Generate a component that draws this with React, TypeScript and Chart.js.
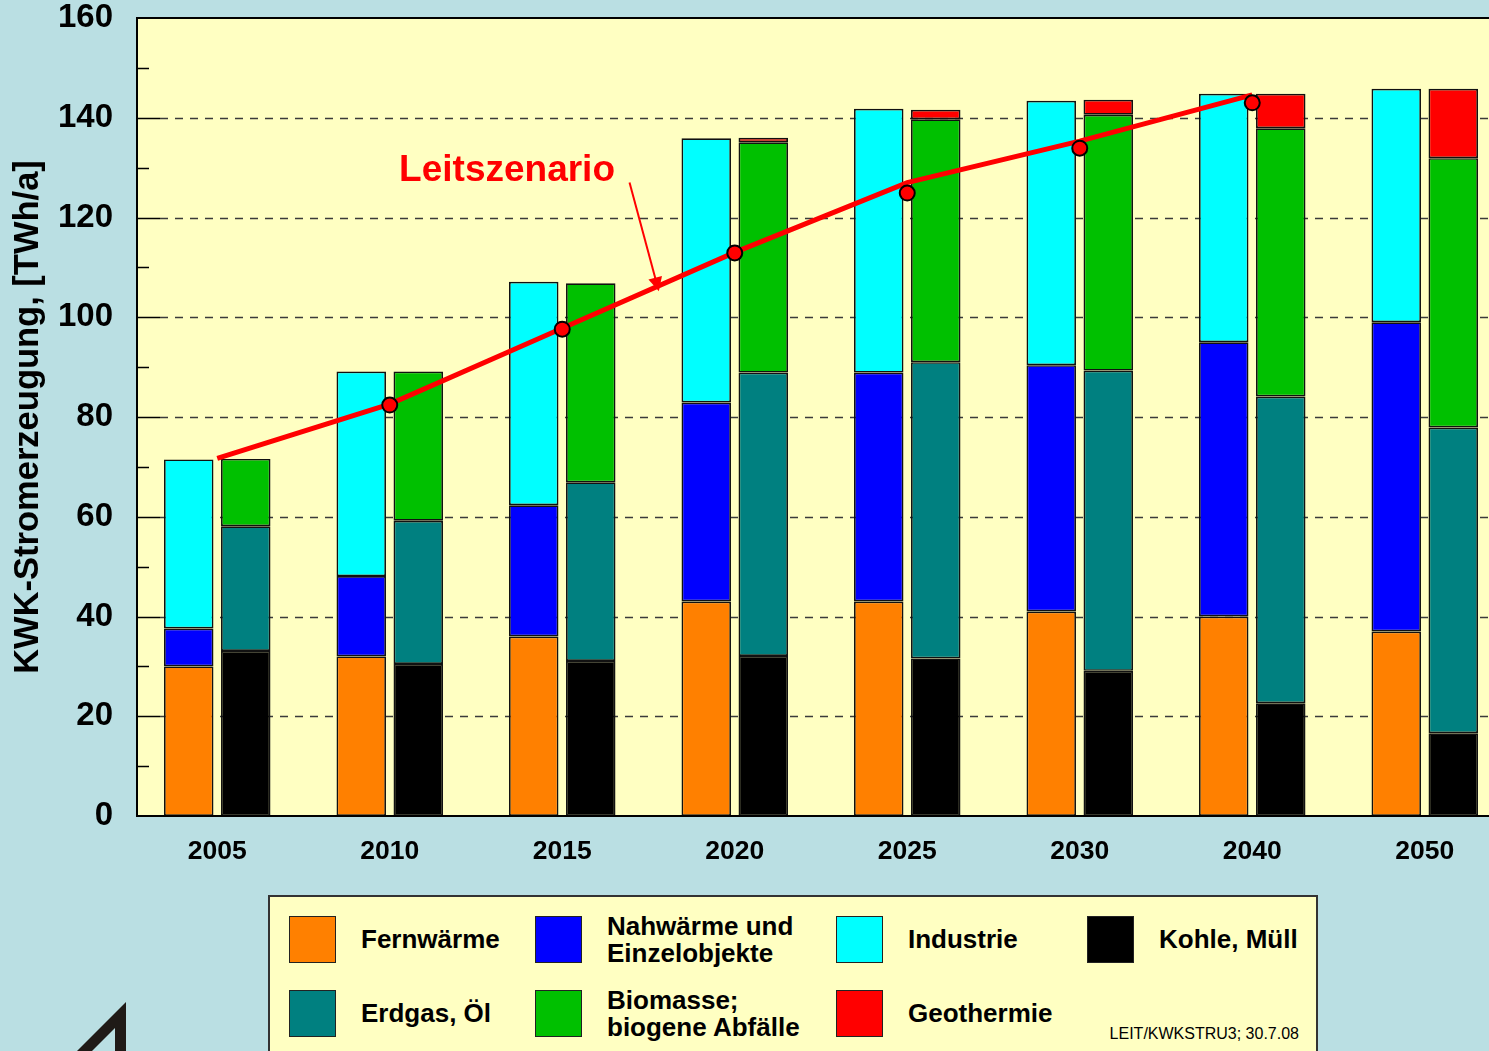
import { useEffect, useRef } from "react";
import { Chart, registerables } from "chart.js";

Chart.register(...registerables);

const YEARS = ["2005", "2010", "2015", "2020", "2025", "2030", "2040", "2050"];
// left column of each pair
const FERNWAERME = [30, 32, 36, 43, 43, 41, 40, 37];
const NAHWAERME = [7.6, 16.1, 26.3, 39.9, 45.9, 49.4, 55, 62];
const INDUSTRIE = [33.9, 41, 44.8, 53, 52.9, 53, 49.8, 46.8];
// right column of each pair
const KOHLE = [33.1, 30.5, 31.1, 32.1, 31.6, 29.1, 22.6, 16.6];
const ERDGAS = [25, 28.7, 35.8, 56.8, 59.4, 60.2, 61.5, 61.3];
const BIOMASSE = [13.5, 29.9, 39.9, 46.2, 48.7, 51.3, 53.8, 54];
const GEOTHERMIE = [0, 0, 0, 0.9, 1.9, 3.0, 6.9, 13.9];
// Leitszenario
const LEIT_LINE = [71.7, 82.6, 97.8, 113, 127, 135.3, 144.6, null];
const LEIT_POINTS = [null, 82.4, 97.6, 112.9, 124.9, 133.9, 143, null];

const Y_MAJOR = [20, 40, 60, 80, 100, 120, 140];
const Y_MINOR = [10, 30, 50, 70, 90, 110, 130, 150];

const FONT = "'Liberation Sans', Arial, Helvetica, sans-serif";
const BG = "#BADFE3";
const PLOT_BG = "#FFFFC2";
const FRAME_INSET = 6; // plot frame sits slightly right of the scale origin

const C_FERN = "#FF8000";
const C_NAH = "#0000FF";
const C_IND = "#00FFFF";
const C_KOHLE = "#000000";
const C_ERDGAS = "#008080";
const C_BIO = "#00C000";
const C_GEO = "#FF0000";

const LEGEND_ROW1 = [
  { color: C_FERN, lines: ["Fernwärme"] },
  { color: C_NAH, lines: ["Nahwärme und", "Einzelobjekte"] },
  { color: C_IND, lines: ["Industrie"] },
  { color: C_KOHLE, lines: ["Kohle, Müll"] },
];
const LEGEND_ROW2 = [
  { color: C_ERDGAS, lines: ["Erdgas, Öl"] },
  { color: C_BIO, lines: ["Biomasse;", "biogene Abfälle"] },
  { color: C_GEO, lines: ["Geothermie"] },
];
const LEGEND_COLS = [19, 265, 566, 817];
const LEGEND_ROWS = [19, 93];

const decorPlugin = {
  id: "decor",
  beforeDraw(chart: any) {
    const { ctx, chartArea: a } = chart;
    const left = a.left + FRAME_INSET;
    ctx.save();
    ctx.fillStyle = PLOT_BG;
    ctx.fillRect(left, a.top, a.right - left, a.bottom - a.top);
    ctx.restore();
  },
  beforeDatasetsDraw(chart: any) {
    const { ctx, chartArea: a } = chart;
    const y = chart.scales.y;
    const left = a.left + FRAME_INSET;
    ctx.save();
    // dashed grid
    ctx.strokeStyle = "#3a3a3a";
    ctx.lineWidth = 1.5;
    ctx.setLineDash([8, 7]);
    ctx.beginPath();
    Y_MAJOR.forEach((v) => {
      const py = Math.round(y.getPixelForValue(v)) + 0.5;
      ctx.moveTo(left + 23, py);
      ctx.lineTo(a.right, py);
    });
    ctx.stroke();
    ctx.setLineDash([]);
    // inner ticks
    ctx.strokeStyle = "#000";
    ctx.beginPath();
    Y_MINOR.forEach((v) => {
      const py = Math.round(y.getPixelForValue(v)) + 0.5;
      ctx.moveTo(left, py);
      ctx.lineTo(left + 12, py);
    });
    Y_MAJOR.forEach((v) => {
      const py = Math.round(y.getPixelForValue(v)) + 0.5;
      ctx.moveTo(left, py);
      ctx.lineTo(left + 23, py);
    });
    ctx.stroke();
    ctx.restore();
  },
  afterDatasetsDraw(chart: any) {
    const { ctx, chartArea: a } = chart;
    const x = chart.scales.x;
    const y = chart.scales.y;
    const left = a.left + FRAME_INSET;
    ctx.save();
    // frame: top, left, bottom
    ctx.strokeStyle = "#000";
    ctx.lineWidth = 2;
    ctx.beginPath();
    ctx.moveTo(a.right, a.top);
    ctx.lineTo(left, a.top);
    ctx.lineTo(left, a.bottom);
    ctx.lineTo(a.right, a.bottom);
    ctx.stroke();

    ctx.fillStyle = "#FF0000";
    ctx.font = `bold 37px ${FONT}`;
    ctx.textAlign = "center";
    ctx.textBaseline = "middle";
    ctx.fillText("Leitszenario", x.getPixelForValue(1.68), y.getPixelForValue(129.4));
    // arrow
    const x0 = x.getPixelForValue(2.39);
    const y0 = y.getPixelForValue(127);
    const x1 = x.getPixelForValue(2.56);
    const y1 = y.getPixelForValue(105.2);
    const ang = Math.atan2(y1 - y0, x1 - x0);
    ctx.strokeStyle = "#FF0000";
    ctx.lineWidth = 2;
    ctx.beginPath();
    ctx.moveTo(x0, y0);
    ctx.lineTo(x1 - Math.cos(ang) * 10, y1 - Math.sin(ang) * 10);
    ctx.stroke();
    const hl = 14;
    const hw = 7;
    ctx.beginPath();
    ctx.moveTo(x1, y1);
    ctx.lineTo(
      x1 - Math.cos(ang) * hl - Math.sin(ang) * hw,
      y1 - Math.sin(ang) * hl + Math.cos(ang) * hw
    );
    ctx.lineTo(
      x1 - Math.cos(ang) * hl + Math.sin(ang) * hw,
      y1 - Math.sin(ang) * hl - Math.cos(ang) * hw
    );
    ctx.closePath();
    ctx.fill();
    ctx.restore();
  },
};

function barDs(label: string, data: number[], color: string, stack: string) {
  return {
    type: "bar" as const,
    label,
    data,
    backgroundColor: color,
    borderColor: "#111",
    borderWidth: 1.7,
    borderSkipped: false,
    stack,
    categoryPercentage: 0.661,
    barPercentage: 0.868,
  };
}

export default function App() {
  const ref = useRef<HTMLCanvasElement>(null);

  useEffect(() => {
    if (!ref.current) return;
    const chart = new Chart(ref.current, {
      type: "bar",
      data: {
        labels: YEARS,
        datasets: [
          {
            type: "line",
            label: "Leitszenario Punkte",
            data: LEIT_POINTS,
            showLine: false,
            pointRadius: 7.5,
            pointBackgroundColor: "#FF0000",
            pointBorderColor: "#000",
            pointBorderWidth: 2,
            stack: "pts",
          } as any,
          {
            type: "line",
            label: "Leitszenario",
            data: LEIT_LINE,
            borderColor: "#FF0000",
            borderWidth: 5,
            pointRadius: 0,
            tension: 0,
            stack: "line",
          } as any,
          barDs("Fernwärme", FERNWAERME, C_FERN, "L"),
          barDs("Nahwärme und Einzelobjekte", NAHWAERME, C_NAH, "L"),
          barDs("Industrie", INDUSTRIE, C_IND, "L"),
          barDs("Kohle, Müll", KOHLE, C_KOHLE, "R"),
          barDs("Erdgas, Öl", ERDGAS, C_ERDGAS, "R"),
          barDs("Biomasse; biogene Abfälle", BIOMASSE, C_BIO, "R"),
          barDs("Geothermie", GEOTHERMIE, C_GEO, "R"),
        ] as any,
      },
      options: {
        responsive: false,
        maintainAspectRatio: false,
        devicePixelRatio: 1,
        animation: false,
        layout: { padding: { left: 0, right: 19, top: 18, bottom: 0 } },
        plugins: {
          legend: { display: false },
          tooltip: { enabled: false },
        },
        scales: {
          x: {
            stacked: true,
            offset: true,
            grid: { display: false, drawTicks: false },
            border: { display: false },
            ticks: {
              color: "#000",
              padding: 20,
              font: { family: FONT, size: 26.5, weight: "bold" },
              maxRotation: 0,
            },
            afterFit(scale: any) {
              scale.height = 64;
              scale.paddingLeft = 0;
              scale.paddingRight = 0;
            },
          },
          y: {
            stacked: true,
            min: 0,
            max: 160,
            ticks: {
              stepSize: 20,
              color: "#000",
              padding: 18,
              font: { family: FONT, size: 33, weight: "bold" },
            },
            grid: { display: false, drawTicks: false },
            border: { display: false },
            title: {
              display: true,
              text: "KWK-Stromerzeugung, [TWh/a]",
              color: "#000",
              font: { family: FONT, size: 34.5, weight: "bold" },
              padding: { top: 8, bottom: 0 },
            },
            afterFit(scale: any) {
              scale.width = 131;
              scale.paddingTop = 0;
              scale.paddingBottom = 0;
            },
          },
        },
      } as any,
      plugins: [decorPlugin],
    });
    return () => chart.destroy();
  }, []);

  const renderItem = (item: { color: string; lines: string[] }, col: number, row: number) => (
    <div
      key={`${row}-${col}`}
      style={{
        position: "absolute",
        left: LEGEND_COLS[col],
        top: LEGEND_ROWS[row],
        height: 47,
        display: "flex",
        alignItems: "center",
        whiteSpace: "nowrap",
      }}
    >
      <div
        style={{
          width: 47,
          height: 47,
          boxSizing: "border-box",
          background: item.color,
          border: "1.5px solid #222",
          flex: "none",
        }}
      />
      <div
        style={{
          marginLeft: 25,
          fontFamily: FONT,
          fontWeight: "bold",
          fontSize: 26,
          lineHeight: "27px",
          color: "#000",
        }}
      >
        {item.lines.map((l, i) => (
          <div key={i}>{l}</div>
        ))}
      </div>
    </div>
  );

  return (
    <div
      style={{
        position: "fixed",
        left: 0,
        top: 0,
        width: 1489,
        height: 1051,
        overflow: "hidden",
        background: BG,
      }}
    >
      <canvas
        ref={ref}
        width={1530}
        height={880}
        style={{ position: "absolute", left: 0, top: 0, width: 1530, height: 880 }}
      />
      <svg width={200} height={61} style={{ position: "absolute", left: 0, top: 990 }}>
        <path
          d="M77 61 L126 12 L126 61 Z M92 61 L115 38 L115 61 Z"
          fill="#1f1a17"
          fillRule="evenodd"
        />
      </svg>
      <div
        style={{
          position: "absolute",
          left: 268,
          top: 895,
          width: 1050,
          height: 200,
          boxSizing: "border-box",
          background: PLOT_BG,
          border: "2px solid #333",
        }}
      >
        {LEGEND_ROW1.map((it, i) => renderItem(it, i, 0))}
        {LEGEND_ROW2.map((it, i) => renderItem(it, i, 1))}
        <div
          style={{
            position: "absolute",
            right: 17,
            top: 128,
            fontFamily: FONT,
            fontSize: 16,
            color: "#000",
            whiteSpace: "nowrap",
          }}
        >
          LEIT/KWKSTRU3; 30.7.08
        </div>
      </div>
    </div>
  );
}
